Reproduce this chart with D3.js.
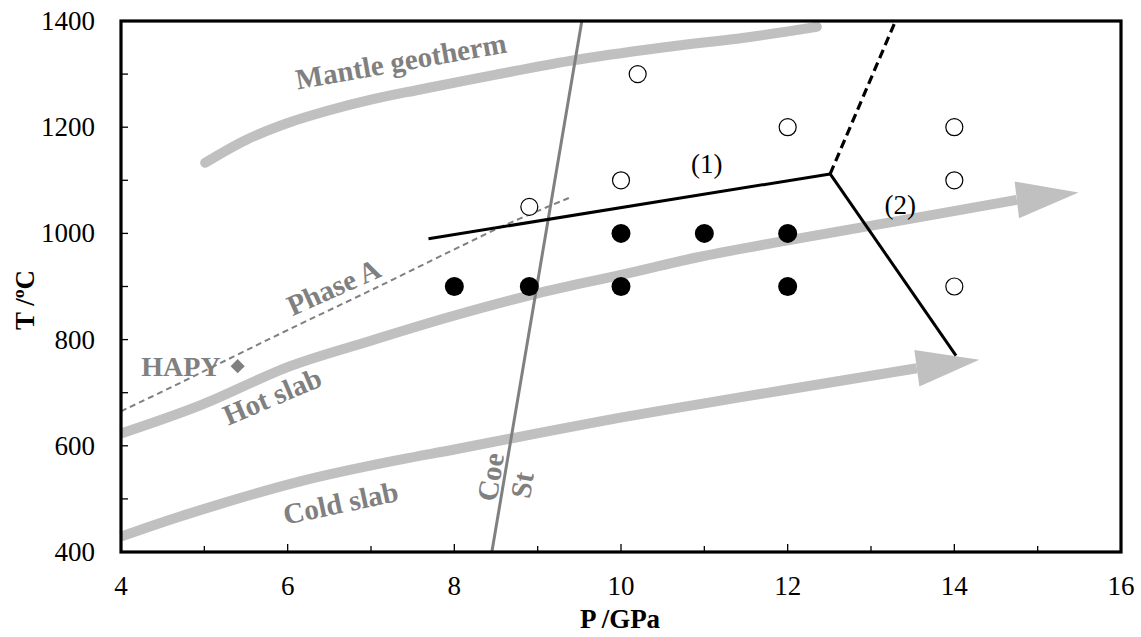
<!DOCTYPE html>
<html><head><meta charset="utf-8">
<script src="https://cdn.jsdelivr.net/npm/d3@7"></script>
<style>body{margin:0;background:#fff}</style>
</head><body>
<svg id="c" width="1141" height="637"></svg>
<script>
// ---- data ----
const xTicks = [4, 6, 8, 10, 12, 14, 16];
const yTicks = [400, 600, 800, 1000, 1200, 1400];
const mantle = [[5.01,1133],[5.5,1176],[6,1208],[6.5,1232],[7,1252],[7.59,1271],[8.5,1299],[9.39,1325],[10.5,1350],[11.55,1370],[12.35,1389]];
const hotSlab = [[4,623],[4.95,676],[6.03,750],[7,798],[7.95,843],[9,887],[10,922],[10.95,956],[12,987],[13.35,1024],[14.75,1063]];
const hotTip = [15.49,1077];
const coldSlab = [[4,429],[4.71,467],[6.15,533],[7.35,574],[8,593],[9.75,646],[11,680],[12,706],[13.55,746]];
const coldTip = [14.3,762];
const coeSt = [[8.45,400],[9.53,1400]];
const phaseA = [[4,665],[4.6,710],[5.35,768],[6,818],[7,893],[7.95,966],[8.6,1015],[9.41,1069]];
const hapy = [[5.4,750]];
const line1 = [[7.69,990],[12.51,1112]];
const line2 = [[12.51,1112],[14.02,770]];
const lineDash = [[12.51,1112],[13.28,1395]];
const openPts = [[8.9,1050],[10.2,1300],[10,1100],[12,1200],[14,1200],[14,1100],[14,900]];
const filledPts = [[8,900],[8.9,900],[10,1000],[10,900],[11,1000],[12,1000],[12,900]];
const grayLabels = [
  {t:"Mantle geotherm", p:[7.38,1306], a:-10},
  {t:"Phase A", p:[6.6,882], a:-24},
  {t:"Hot slab", p:[5.86,676], a:-23},
  {t:"Cold slab", p:[6.66,474], a:-12},
  {t:"Coe", p:[8.55,538], a:-80.4},
  {t:"St", p:[8.93,523], a:-80.4}
];
const blackLabels = [{t:"(1)", p:[11.03,1113]},{t:"(2)", p:[13.35,1037]}];

// ---- layout ----
const svg = d3.select("#c");
const L=121, R=1121, T=21, B=552;
const x = d3.scaleLinear().domain([4,16]).range([L,R]);
const y = d3.scaleLinear().domain([400,1400]).range([B,T]);
const FONT = '"Liberation Serif"';
const gray = "#c0c0c0", dark = "#808080";
const line = d3.line().x(d=>x(d[0])).y(d=>y(d[1]));
const curve = d3.line().x(d=>x(d[0])).y(d=>y(d[1])).curve(d3.curveCatmullRom);

const plot = svg.append("g");
plot.append("path").attr("d", curve(mantle)).attr("fill","none").attr("stroke",gray).attr("stroke-width",10).attr("stroke-linecap","round");
function arrow(pts, tip){
  plot.append("path").attr("d", curve(pts)).attr("fill","none").attr("stroke",gray).attr("stroke-width",10);
  const b = pts[pts.length-1];
  const bx=x(b[0]), by=y(b[1]), tx=x(tip[0]), ty=y(tip[1]);
  const dx=tx-bx, dy=ty-by, len=Math.hypot(dx,dy), nx=-dy/len, ny=dx/len, h=18.5;
  plot.append("path").attr("d",`M${bx+nx*h},${by+ny*h}L${tx},${ty}L${bx-nx*h},${by-ny*h}Z`).attr("fill",gray);
}
arrow(hotSlab, hotTip);
arrow(coldSlab, coldTip);

plot.append("path").attr("d", line(coeSt)).attr("stroke",dark).attr("stroke-width",3).attr("fill","none");
plot.append("path").attr("d", curve(phaseA)).attr("stroke",dark).attr("stroke-width",2).attr("stroke-dasharray","6,4").attr("fill","none");
plot.selectAll(".hp").data(hapy).join("path").attr("d", d3.symbol(d3.symbolSquare, 100)())
  .attr("transform",d=>`translate(${x(d[0])},${y(d[1])}) rotate(45)`).attr("fill",dark);

plot.append("path").attr("d", line(line1)).attr("stroke","#000").attr("stroke-width",3).attr("fill","none");
plot.append("path").attr("d", line(line2)).attr("stroke","#000").attr("stroke-width",3).attr("fill","none");
plot.append("path").attr("d", line(lineDash)).attr("stroke","#000").attr("stroke-width",3.2).attr("stroke-dasharray","9,5").attr("fill","none");

plot.selectAll(".op").data(openPts).join("circle").attr("cx",d=>x(d[0])).attr("cy",d=>y(d[1])).attr("r",8.5)
  .attr("fill","#fff").attr("stroke","#000").attr("stroke-width",1.2);
plot.selectAll(".fp").data(filledPts).join("circle").attr("cx",d=>x(d[0])).attr("cy",d=>y(d[1])).attr("r",9.5).attr("fill","#000");

plot.selectAll(".gl").data(grayLabels).join("text")
  .attr("transform",d=>`translate(${x(d.p[0])},${y(d.p[1])}) rotate(${d.a})`)
  .attr("text-anchor","middle").style("font-family",FONT).style("font-weight","bold").style("font-size","29px")
  .attr("fill",dark).text(d=>d.t);
plot.selectAll(".hl").data(hapy).join("text")
  .attr("x",d=>x(d[0])-17).attr("y",d=>y(d[1])+10).attr("text-anchor","end")
  .style("font-family",FONT).style("font-weight","bold").style("font-size","28px").attr("fill",dark).text("HAPY");
plot.selectAll(".bl").data(blackLabels).join("text")
  .attr("x",d=>x(d.p[0])).attr("y",d=>y(d.p[1])).attr("text-anchor","middle")
  .style("font-family",FONT).style("font-size","27px").attr("fill","#000").text(d=>d.t);

// ---- axes ----
const ax = svg.append("g");
ax.append("rect").attr("x",L).attr("y",T).attr("width",R-L).attr("height",B-T).attr("fill","none").attr("stroke","#000").attr("stroke-width",3.2);
const xMinor = d3.range(5,16,2), yMinor = d3.range(500,1400,200);
ax.selectAll(".xt").data(xTicks.slice(1,-1)).join("line").attr("x1",d=>x(d)).attr("x2",d=>x(d)).attr("y1",B).attr("y2",B-8).attr("stroke","#000").attr("stroke-width",1.3);
ax.selectAll(".xm").data(xMinor).join("line").attr("x1",d=>x(d)).attr("x2",d=>x(d)).attr("y1",B).attr("y2",B-6).attr("stroke","#000").attr("stroke-width",1.3);
ax.selectAll(".yt").data(yTicks.slice(1,-1).concat(yMinor)).join("line").attr("y1",d=>y(d)).attr("y2",d=>y(d)).attr("x1",L).attr("x2",L+7).attr("stroke","#000").attr("stroke-width",1.3);
ax.selectAll(".xl").data(xTicks).join("text").attr("x",d=>x(d)).attr("y",595).attr("text-anchor","middle").style("font-family",FONT).style("font-size","27px").text(d=>d);
ax.selectAll(".yl").data(yTicks).join("text").attr("x",95).attr("y",d=>y(d)+9).attr("text-anchor","end").style("font-family",FONT).style("font-size","27px").text(d=>d);
ax.append("text").attr("x",620).attr("y",628).attr("text-anchor","middle").style("font-family",FONT).style("font-size","27px").style("font-weight","bold").text("P /GPa");
ax.append("text").attr("transform","translate(34,300) rotate(-90)").attr("text-anchor","middle").style("font-family",FONT).style("font-size","27px").style("font-weight","bold").text("T /ºC");
</script>
</body></html>
